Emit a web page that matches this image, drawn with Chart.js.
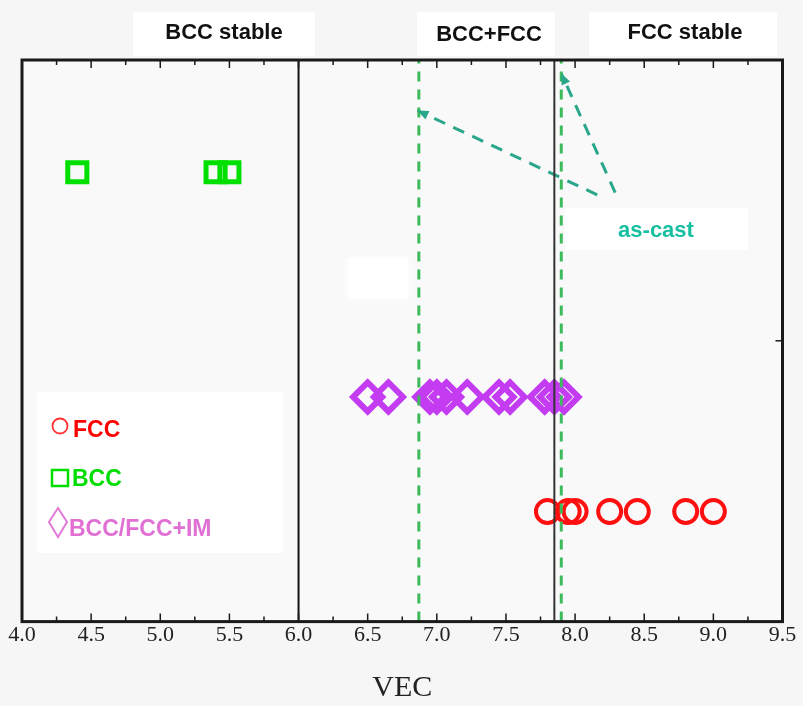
<!DOCTYPE html>
<html>
<head>
<meta charset="utf-8">
<script src="https://cdn.jsdelivr.net/npm/chart.js@4.4.1/dist/chart.umd.min.js"></script>
<style>
  html, body { margin: 0; padding: 0; background: #f6f6f6; }
  #wrap { width: 803px; height: 706px; }
</style>
</head>
<body>
<div id="wrap"><canvas id="chart" width="803" height="706"></canvas></div>
<script>
// VEC values
const fccVEC = [7.8, 7.95, 8.0, 8.25, 8.45, 8.8, 9.0];
const bccVEC = [4.4, 5.4, 5.5];
const imVEC = [6.5, 6.65, 6.95, 7.0, 7.07, 7.22, 7.45, 7.53, 7.78, 7.85, 7.92];
// row heights on the (unlabelled) y axis
const fccRow = 0.98;
const bccRow = 4;
const imRow = 2;
// phase boundaries
const solidBoundaries = [6.0, 7.85];
const dashedBoundaries = [6.87, 7.9];
// "as-cast" arrows: [start, end] in data units
const arrowLines = [
  [[8.16, 3.8], [6.86, 4.55]],
  [[8.29, 3.82], [7.9, 4.88]],
];
const regionLabels = ["BCC stable", "BCC+FCC", "FCC stable"];
const legendLabels = ["FCC", "BCC", "BCC/FCC+IM"];

const teal = "#2aa78b";

const toPoints = (xs, y) => xs.map((x) => ({ x: x, y: y }));

const datasets = [];
solidBoundaries.forEach((v, i) => {
  datasets.push({
    type: "line",
    data: [{ x: v, y: 0 }, { x: v, y: 5 }],
    borderColor: i == 0 ? "#111" : "#333",
    borderWidth: 2,
    pointRadius: 0,
    order: 0,
  });
});
dashedBoundaries.forEach((v) => {
  datasets.push({
    type: "line",
    data: [{ x: v, y: 0 }, { x: v, y: 5 }],
    borderColor: "#3cba5c",
    borderWidth: 3,
    borderDash: [10, 8],
    pointRadius: 0,
    order: 0,
  });
});
arrowLines.forEach((a) => {
  datasets.push({
    type: "line",
    data: [{ x: a[0][0], y: a[0][1] }, { x: a[1][0], y: a[1][1] }],
    borderColor: teal,
    borderWidth: 3,
    borderDash: [12, 9],
    pointRadius: 0,
    order: 0,
  });
});
datasets.push({
  label: "BCC",
  data: toPoints(bccVEC, bccRow),
  pointStyle: "rect",
  pointRadius: 13.5,
  borderWidth: 5,
  borderColor: "#00e000",
  backgroundColor: "rgba(0,0,0,0)",
  order: 1,
});
datasets.push({
  label: "BCC/FCC+IM",
  data: toPoints(imVEC, imRow),
  pointStyle: "rectRot",
  pointRadius: 14.5,
  borderWidth: 6,
  borderColor: "#c43cf2",
  backgroundColor: "rgba(0,0,0,0)",
  order: 1,
});
datasets.push({
  label: "FCC",
  data: toPoints(fccVEC, fccRow),
  pointStyle: "circle",
  pointRadius: 11.5,
  borderWidth: 4,
  borderColor: "#ff1010",
  backgroundColor: "rgba(0,0,0,0)",
  order: 1,
});

//background, white label boxes and the white smudge
const backPlugin = {
  id: "back",
  beforeDraw(chart) {
    const ctx = chart.ctx;
    ctx.save();
    ctx.fillStyle = "#f6f6f6";
    ctx.fillRect(0, 0, chart.width, chart.height);
    ctx.fillStyle = "#ffffff";
    ctx.fillRect(133, 12, 182, 44);
    ctx.fillRect(417, 12, 138, 44);
    ctx.fillRect(589, 12, 188, 44);
    ctx.restore();
  },
  beforeDatasetsDraw(chart) {
    const ctx = chart.ctx;
    const a = chart.chartArea;
    ctx.save();
    ctx.fillStyle = "#f9f9f9";
    ctx.fillRect(a.left, a.top, a.right - a.left, a.bottom - a.top);
    ctx.fillStyle = "#ffffff";
    ctx.shadowColor = "#ffffff";
    ctx.shadowBlur = 8;
    ctx.fillRect(348, 258, 60, 40);
    //as-cast box
    ctx.shadowBlur = 0;
    ctx.fillRect(565, 208, 183, 42);
    //legend box
    ctx.fillRect(37, 392, 246, 161);
    ctx.restore();
  },
};

//frame, inward ticks, arrowheads, texts, legend
const framePlugin = {
  id: "frame",
  afterDatasetsDraw(chart) {
    const ctx = chart.ctx;
    const a = chart.chartArea;
    const xs = chart.scales.x;
    const ys = chart.scales.y;
    ctx.save();
    ctx.strokeStyle = "#1a1a1a";
    ctx.lineWidth = 1.5;
    for (let v = 4.25; v < 9.5; v += 0.25) {
      const px = xs.getPixelForValue(v);
      const len = Math.abs((v * 2) % 1) < 0.01 ? 8 : 5;
      ctx.beginPath();
      ctx.moveTo(px, a.bottom);
      ctx.lineTo(px, a.bottom - len);
      ctx.moveTo(px, a.top);
      ctx.lineTo(px, a.top + len);
      ctx.stroke();
    }
    const py = ys.getPixelForValue(2.5);
    ctx.beginPath();
    ctx.moveTo(a.right, py);
    ctx.lineTo(a.right - 7, py);
    ctx.stroke();
    ctx.lineWidth = 3;
    ctx.strokeRect(a.left, a.top, a.right - a.left, a.bottom - a.top);

    //arrow heads
    ctx.fillStyle = teal;
    arrowLines.forEach((l) => {
      const x0 = xs.getPixelForValue(l[0][0]);
      const y0 = ys.getPixelForValue(l[0][1]);
      const x1 = xs.getPixelForValue(l[1][0]);
      const y1 = ys.getPixelForValue(l[1][1]);
      const ang = Math.atan2(y1 - y0, x1 - x0);
      ctx.beginPath();
      ctx.moveTo(x1, y1);
      ctx.lineTo(x1 - 12 * Math.cos(ang - 0.4), y1 - 12 * Math.sin(ang - 0.4));
      ctx.lineTo(x1 - 12 * Math.cos(ang + 0.4), y1 - 12 * Math.sin(ang + 0.4));
      ctx.closePath();
      ctx.fill();
    });

    //region labels
    ctx.font = "bold 22px 'Liberation Sans', Arial, sans-serif";
    ctx.fillStyle = "#111";
    ctx.textAlign = "center";
    ctx.textBaseline = "middle";
    ctx.fillText(regionLabels[0], 224, 33);
    ctx.fillText(regionLabels[1], 489, 35);
    ctx.fillText(regionLabels[2], 685, 33);

    ctx.fillStyle = "#16bfa0";
    ctx.fillText("as-cast", 656, 231);

    //legend
    ctx.textAlign = "left";
    ctx.font = "bold 23px 'Liberation Sans', Arial, sans-serif";
    ctx.lineWidth = 1.8;
    ctx.strokeStyle = "#ff3030";
    ctx.beginPath();
    ctx.arc(60, 426, 7.5, 0, Math.PI * 2);
    ctx.stroke();
    ctx.fillStyle = "#ff0000";
    ctx.fillText(legendLabels[0], 73, 431);

    ctx.strokeStyle = "#00dd00";
    ctx.lineWidth = 2.5;
    ctx.strokeRect(52, 470, 16, 16);
    ctx.fillStyle = "#00dd00";
    ctx.fillText(legendLabels[1], 72, 480);

    ctx.strokeStyle = "#e27ad6";
    ctx.lineWidth = 2;
    ctx.beginPath();
    ctx.moveTo(58, 508);
    ctx.lineTo(67, 522);
    ctx.lineTo(58, 537);
    ctx.lineTo(49, 522);
    ctx.closePath();
    ctx.stroke();
    ctx.fillStyle = "#e070d4";
    ctx.fillText(legendLabels[2], 69, 530);
    ctx.restore();
  },
};

const config = {
  type: "scatter",
  data: { datasets: datasets },
  options: {
    responsive: false,
    animation: false,
    layout: { padding: { left: 22, right: 16, top: 60, bottom: 0 } },
    plugins: {
      legend: { display: false },
      tooltip: { enabled: false },
    },
    scales: {
      x: {
        type: "linear",
        min: 4,
        max: 9.5,
        grid: { display: false },
        border: { display: false },
        ticks: {
          stepSize: 0.5,
          padding: -8,
          color: "#222",
          font: { family: "'Liberation Serif', 'Times New Roman', serif", size: 22 },
          callback: (v) => v.toFixed(1),
        },
        title: {
          display: true,
          text: "VEC",
          color: "#222",
          padding: { top: 30, bottom: 0 },
          font: { family: "'Liberation Serif', 'Times New Roman', serif", size: 30 },
        },
      },
      y: {
        display: false,
        min: 0,
        max: 5,
      },
    },
  },
  plugins: [backPlugin, framePlugin],
};

let myChart = new Chart(document.getElementById("chart"), config);
</script>
</body>
</html>
